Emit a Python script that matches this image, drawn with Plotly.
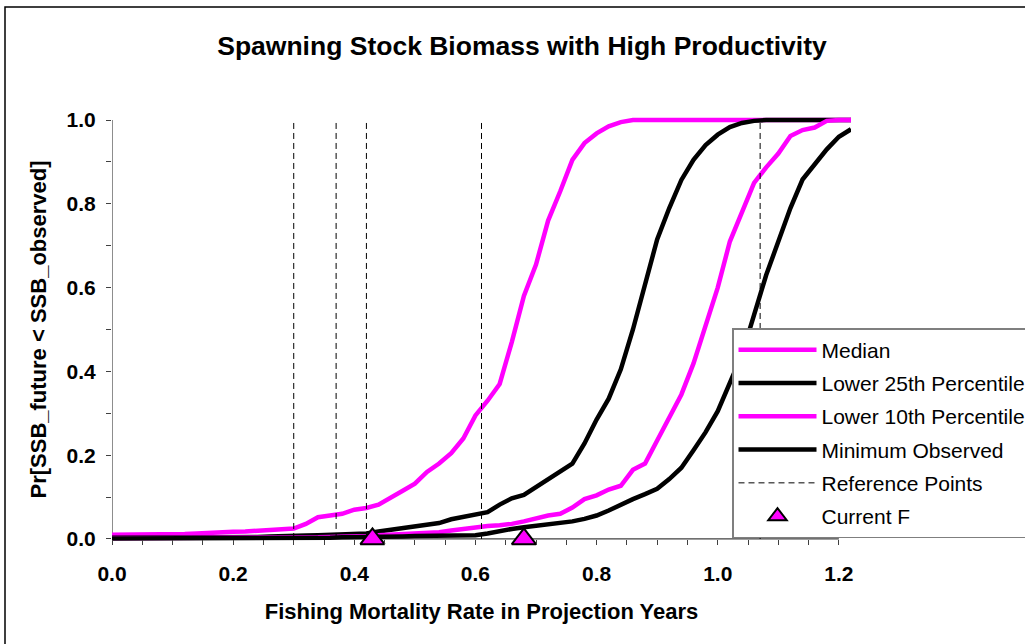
import plotly.graph_objects as go

# Fishing mortality grid used in the projections
f_rate = [
    0.00, 0.02, 0.04, 0.06, 0.08, 0.10, 0.12, 0.14, 0.16, 0.18,
    0.20, 0.22, 0.24, 0.26, 0.28, 0.30, 0.32, 0.34, 0.36, 0.38,
    0.40, 0.42, 0.44, 0.46, 0.48, 0.50, 0.52, 0.54, 0.56, 0.58,
    0.60, 0.62, 0.64, 0.66, 0.68, 0.70, 0.72, 0.74, 0.76, 0.78,
    0.80, 0.82, 0.84, 0.86, 0.88, 0.90, 0.92, 0.94, 0.96, 0.98,
    1.00, 1.02, 1.04, 1.06, 1.08, 1.10, 1.12, 1.14, 1.16, 1.18,
    1.20, 1.22,
]

# Probability that future SSB falls below each threshold
median = [
    0.010, 0.010, 0.011, 0.011, 0.011, 0.011, 0.012, 0.013, 0.015, 0.016,
    0.017, 0.018, 0.020, 0.021, 0.023, 0.025, 0.036, 0.052, 0.056, 0.060,
    0.070, 0.074, 0.082, 0.100, 0.115, 0.132, 0.160, 0.180, 0.205, 0.240,
    0.295, 0.330, 0.370, 0.470, 0.580, 0.655, 0.760, 0.830, 0.905, 0.945,
    0.968, 0.985, 0.995, 1.000, 1.000, 1.000, 1.000, 1.000, 1.000, 1.000,
    1.000, 1.000, 1.000, 1.000, 1.000, 1.000, 1.000, 1.000, 1.000, 1.000,
    1.000, 1.000,
]
lower_25th = [
    0.003, 0.003, 0.003, 0.003, 0.004, 0.004, 0.004, 0.004, 0.005, 0.005,
    0.005, 0.005, 0.005, 0.006, 0.006, 0.007, 0.008, 0.009, 0.010, 0.011,
    0.012, 0.013, 0.018, 0.022, 0.026, 0.029, 0.033, 0.038, 0.047, 0.053,
    0.058, 0.064, 0.082, 0.097, 0.105, 0.124, 0.143, 0.162, 0.180, 0.228,
    0.285, 0.335, 0.405, 0.500, 0.610, 0.715, 0.790, 0.857, 0.905, 0.940,
    0.965, 0.983, 0.993, 0.998, 1.000, 1.000, 1.000, 1.000, 1.000, 1.000,
    1.000, 1.000,
]
lower_10th = [
    0.002, 0.002, 0.002, 0.002, 0.002, 0.002, 0.002, 0.002, 0.002, 0.002,
    0.002, 0.002, 0.003, 0.003, 0.003, 0.003, 0.004, 0.004, 0.005, 0.005,
    0.006, 0.007, 0.009, 0.010, 0.011, 0.012, 0.014, 0.016, 0.020, 0.024,
    0.029, 0.031, 0.033, 0.036, 0.042, 0.049, 0.056, 0.060, 0.075, 0.095,
    0.104, 0.118, 0.127, 0.165, 0.180, 0.235, 0.290, 0.345, 0.419, 0.510,
    0.600, 0.710, 0.780, 0.850, 0.887, 0.920, 0.962, 0.976, 0.982, 0.998,
    1.000, 1.000,
]
minimum_observed = [
    0.001, 0.001, 0.001, 0.001, 0.001, 0.001, 0.001, 0.001, 0.001, 0.001,
    0.001, 0.001, 0.002, 0.002, 0.002, 0.002, 0.003, 0.003, 0.003, 0.004,
    0.004, 0.005, 0.005, 0.006, 0.006, 0.007, 0.007, 0.008, 0.008, 0.009,
    0.009, 0.013, 0.019, 0.024, 0.028, 0.031, 0.035, 0.038, 0.042, 0.048,
    0.056, 0.068, 0.083, 0.095, 0.107, 0.120, 0.143, 0.170, 0.212, 0.255,
    0.305, 0.372, 0.440, 0.535, 0.630, 0.710, 0.790, 0.858, 0.895, 0.930,
    0.960, 0.978,
]

reference_points = [0.30, 0.37, 0.42, 0.61, 1.07]
current_f = [0.43, 0.68]

x_ticks = [0.0, 0.2, 0.4, 0.6, 0.8, 1.0, 1.2]
y_ticks = [0.0, 0.2, 0.4, 0.6, 0.8, 1.0]

MAGENTA = "#FF00FF"
BLACK = "#000000"
FONT = "Liberation Sans, Arial, sans-serif"

# pixel layout of the figure
W, H = 1025, 644
L, R, T, B = 112, 174, 115, 100
Y_LO, Y_HI = -0.012, 1.012
X_LO, X_HI = 0.0, 1.22
plot_w = W - L - R
plot_h = H - T - B


def px_to_paper_x(px):
    return (px - L) / plot_w


def px_to_paper_y(py):
    return (H - B - py) / plot_h


fig = go.Figure()

series = [
    ("Median", median, MAGENTA),
    ("Lower 25th Percentile", lower_25th, BLACK),
    ("Lower 10th Percentile", lower_10th, MAGENTA),
    ("Minimum Observed", minimum_observed, BLACK),
]
for name, values, color in series:
    fig.add_trace(go.Scatter(
        x=f_rate, y=values, name=name, mode="lines",
        line=dict(color=color, width=4.5),
        legendgroup=name,
    ))

# vertical dashed reference lines spanning probability 0..1
ref_x, ref_y = [], []
for f in reference_points:
    ref_x += [f, f, None]
    ref_y += [0.0, 1.0, None]
fig.add_trace(go.Scatter(
    x=ref_x, y=ref_y, name="Reference Points", mode="lines",
    line=dict(color=BLACK, width=1, dash="6px,4px"),
    legendgroup="ref",
))

fig.add_trace(go.Scatter(
    x=current_f, y=[0.0] * len(current_f), name="Current F", mode="markers",
    marker=dict(symbol="triangle-up", size=21, color=MAGENTA,
                line=dict(color=BLACK, width=2)),
    cliponaxis=False,
    legendgroup="cur",
))

# axis lines drawn over the exact data span
fig.add_shape(type="line", xref="x", yref="y", x0=0, x1=1.2, y0=0, y1=0,
              line=dict(color="#404040", width=1.2), layer="below")
fig.add_shape(type="line", xref="x", yref="y", x0=0, x1=0, y0=0, y1=1.0,
              line=dict(color="#404040", width=1.2), layer="below")

# chart border
fig.add_shape(type="rect", xref="paper", yref="paper",
              x0=px_to_paper_x(5), x1=px_to_paper_x(W + 10),
              y0=px_to_paper_y(H + 10), y1=px_to_paper_y(7),
              line=dict(color=BLACK, width=1.5), fillcolor="rgba(0,0,0,0)")

fig.update_layout(
    width=W, height=H,
    margin=dict(l=L, r=R, t=T, b=B, autoexpand=False),
    paper_bgcolor="white", plot_bgcolor="white",
    font=dict(family=FONT, color=BLACK),
    title=dict(
        text="Spawning Stock Biomass with High Productivity",
        x=522 / W, xref="container", xanchor="center",
        y=1 - 46 / H, yref="container", yanchor="middle",
        font=dict(size=26.5, weight="bold", family=FONT, color=BLACK),
    ),
    xaxis=dict(
        range=[X_LO, X_HI], showline=False, showgrid=False, zeroline=False,
        tickvals=x_ticks, ticktext=[f"{v:.1f}" for v in x_ticks],
        ticks="outside", ticklen=5, tickwidth=1, tickcolor="#404040",
        minor=dict(dtick=0.05, tick0=0, ticks="outside", ticklen=5,
                   tickwidth=1, tickcolor="#404040", showgrid=False),
        tickfont=dict(size=21, weight="bold", family=FONT, color=BLACK),
        ticklabelstandoff=11,
        anchor="free", position=(0 - Y_LO) / (Y_HI - Y_LO),
        title=dict(text="Fishing Mortality Rate in Projection Years",
                   font=dict(size=22, weight="bold", family=FONT, color=BLACK),
                   standoff=19),
    ),
    yaxis=dict(
        range=[Y_LO, Y_HI], showline=False, showgrid=False, zeroline=False,
        tickvals=y_ticks, ticktext=[f"{v:.1f}" for v in y_ticks],
        ticks="outside", ticklen=5, tickwidth=1, tickcolor="#404040",
        minor=dict(tickvals=[0.1, 0.3, 0.5, 0.7, 0.9], ticks="outside",
                   ticklen=5, tickwidth=1, tickcolor="#404040", showgrid=False),
        tickfont=dict(size=21, weight="bold", family=FONT, color=BLACK),
        ticklabelstandoff=6,
        title=dict(text="Pr[SSB_future < SSB_observed]",
                   font=dict(size=22, weight="bold", family=FONT, color=BLACK),
                   standoff=13),
    ),
    showlegend=True,
    legend=dict(
        x=px_to_paper_x(732), y=px_to_paper_y(328),
        xanchor="left", yanchor="top",
        bgcolor="white", bordercolor="#7f7f7f", borderwidth=1.5,
        font=dict(size=21, family=FONT, color=BLACK),
        itemwidth=78, tracegroupgap=3, traceorder="grouped",
    ),
)

fig.write_html("out.html")
